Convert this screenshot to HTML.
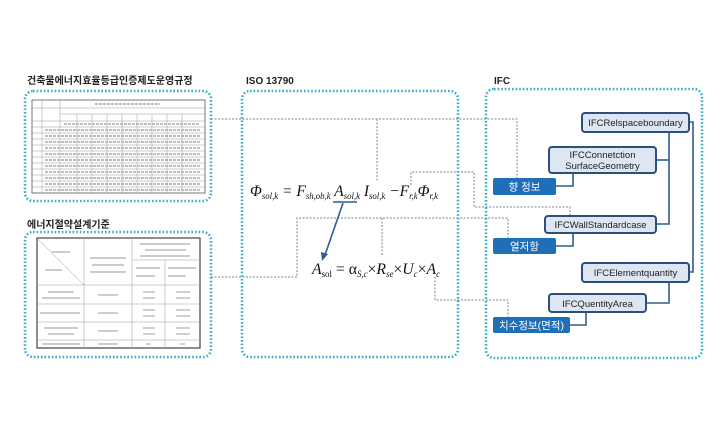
<!DOCTYPE html>
<html><head><meta charset="utf-8"><style>
html,body{margin:0;padding:0;background:#fff;}
svg{display:block}
text{font-family:"Liberation Sans","Noto Sans CJK KR",sans-serif;}
.t{font-weight:bold;font-size:10px;fill:#222}
.f{font-family:"Liberation Serif",serif;font-style:italic;fill:#111}
.btn{fill:#1f6fb8}
.bt{fill:#fff;font-size:10.5px}
.lb{fill:#dde6f2;stroke:#2c4f7c;stroke-width:2}
.lt{fill:#222;font-size:9.5px}
.dot{fill:none;stroke:#35aec8;stroke-width:2.6;stroke-dasharray:1.6 2}
.con{fill:none;stroke:#6f8aa0;stroke-width:1;stroke-dasharray:2 1.5}
.sol{fill:none;stroke:#2c5f8e;stroke-width:1.6}
.g{stroke:#999;stroke-width:0.5}
</style></head><body>
<svg width="720" height="440" viewBox="0 0 720 440">
<text x="27" y="84" class="t">건축물에너지효율등급인증제도운영규정</text>
<text x="27" y="228" class="t">에너지절약설계기준</text>
<text x="246" y="84" class="t">ISO 13790</text>
<text x="494" y="84" class="t">IFC</text>
<rect x="25" y="91" width="186" height="110" rx="8" class="dot"/>
<rect x="25" y="232" width="186" height="125" rx="8" class="dot"/>
<rect x="242" y="91" width="216" height="266" rx="8" class="dot"/>
<rect x="486" y="89" width="216" height="269" rx="8" class="dot"/>
<g>
<rect x="32" y="100" width="173" height="93" fill="#fff" stroke="#555" stroke-width="0.8"/>
<g class="g">
<line x1="32" y1="108" x2="205" y2="108"/><line x1="60" y1="114" x2="205" y2="114"/>
<line x1="32" y1="121" x2="205" y2="121"/><line x1="32" y1="127" x2="205" y2="127"/><line x1="32" y1="133" x2="205" y2="133"/>
<line x1="32" y1="139" x2="205" y2="139"/><line x1="32" y1="145" x2="205" y2="145"/><line x1="32" y1="151" x2="205" y2="151"/>
<line x1="32" y1="157" x2="205" y2="157"/><line x1="32" y1="163" x2="205" y2="163"/><line x1="32" y1="169" x2="205" y2="169"/>
<line x1="32" y1="175" x2="205" y2="175"/><line x1="32" y1="181" x2="205" y2="181"/><line x1="32" y1="187" x2="205" y2="187"/>
<line x1="42" y1="100" x2="42" y2="193"/><line x1="60" y1="100" x2="60" y2="193"/>
<line x1="77" y1="114" x2="77" y2="193"/><line x1="92" y1="114" x2="92" y2="193"/><line x1="107" y1="114" x2="107" y2="193"/>
<line x1="122" y1="114" x2="122" y2="193"/><line x1="137" y1="114" x2="137" y2="193"/><line x1="152" y1="114" x2="152" y2="193"/>
<line x1="167" y1="114" x2="167" y2="193"/><line x1="182" y1="114" x2="182" y2="193"/>
</g>
<g stroke="#aaa" stroke-width="1.4" stroke-dasharray="3 1">
<line x1="95" y1="104" x2="160" y2="104"/>
<line x1="64" y1="124" x2="200" y2="124"/><line x1="45" y1="130" x2="200" y2="130"/><line x1="45" y1="136" x2="200" y2="136"/><line x1="45" y1="142" x2="200" y2="142"/><line x1="45" y1="148" x2="200" y2="148"/><line x1="45" y1="154" x2="200" y2="154"/><line x1="45" y1="160" x2="200" y2="160"/><line x1="45" y1="166" x2="200" y2="166"/><line x1="45" y1="172" x2="200" y2="172"/><line x1="45" y1="178" x2="200" y2="178"/><line x1="45" y1="184" x2="200" y2="184"/><line x1="45" y1="190" x2="200" y2="190"/>
</g>
</g>
<g>
<rect x="37" y="238" width="163" height="110" fill="#fff" stroke="#444" stroke-width="1.2"/>
<g class="g">
<line x1="37" y1="238" x2="84" y2="285"/>
<line x1="84" y1="238" x2="84" y2="348"/><line x1="132" y1="238" x2="132" y2="348"/><line x1="165" y1="260" x2="165" y2="348"/>
<line x1="132" y1="260" x2="200" y2="260"/>
<line x1="37" y1="285" x2="200" y2="285"/><line x1="37" y1="304" x2="200" y2="304"/><line x1="37" y1="322" x2="200" y2="322"/><line x1="37" y1="340" x2="200" y2="340"/>
</g>
<g stroke="#bbb" stroke-width="1.4">
<line x1="52" y1="252" x2="70" y2="252"/><line x1="45" y1="270" x2="62" y2="270"/>
<line x1="90" y1="258" x2="126" y2="258"/><line x1="92" y1="265" x2="124" y2="265"/><line x1="90" y1="272" x2="126" y2="272"/>
<line x1="140" y1="244" x2="190" y2="244"/><line x1="145" y1="250" x2="186" y2="250"/><line x1="140" y1="256" x2="190" y2="256"/>
<line x1="136" y1="268" x2="160" y2="268"/><line x1="168" y1="268" x2="196" y2="268"/><line x1="136" y1="276" x2="155" y2="276"/><line x1="168" y1="276" x2="186" y2="276"/>
<line x1="48" y1="292" x2="74" y2="292"/><line x1="42" y1="298" x2="80" y2="298"/><line x1="98" y1="295" x2="118" y2="295"/><line x1="143" y1="292" x2="155" y2="292"/><line x1="143" y1="298" x2="155" y2="298"/><line x1="176" y1="292" x2="190" y2="292"/><line x1="176" y1="298" x2="190" y2="298"/>
<line x1="40" y1="313" x2="80" y2="313"/><line x1="98" y1="313" x2="118" y2="313"/><line x1="143" y1="310" x2="155" y2="310"/><line x1="143" y1="316" x2="155" y2="316"/><line x1="176" y1="310" x2="190" y2="310"/><line x1="176" y1="316" x2="190" y2="316"/>
<line x1="44" y1="328" x2="78" y2="328"/><line x1="48" y1="334" x2="74" y2="334"/><line x1="98" y1="331" x2="118" y2="331"/><line x1="143" y1="328" x2="155" y2="328"/><line x1="143" y1="334" x2="155" y2="334"/><line x1="176" y1="328" x2="190" y2="328"/><line x1="176" y1="334" x2="190" y2="334"/>
<line x1="42" y1="344" x2="80" y2="344"/><line x1="98" y1="344" x2="118" y2="344"/><line x1="146" y1="344" x2="151" y2="344"/><line x1="180" y1="344" x2="185" y2="344"/>
</g>
</g>
<polyline class="con" points="211,119 517,119 517,178"/>
<line class="con" x1="377" y1="119" x2="377" y2="182"/>
<polyline class="con" points="411,185 411,172 474,172 474,207 570,207 570,216"/>
<polyline class="con" points="211,277 297,277 297,218 508,218 508,238"/>
<line class="con" x1="382" y1="218" x2="382" y2="255"/>
<polyline class="con" points="435,277 435,300 508,300 508,317"/>
<text x="250" y="196" class="f" font-size="16" textLength="188" lengthAdjust="spacingAndGlyphs">Φ<tspan font-size="9" dy="3">sol,k</tspan><tspan dy="-3"> = F</tspan><tspan font-size="9" dy="3">sh,ob,k</tspan><tspan dy="-3"> A</tspan><tspan font-size="9" dy="3">sol,k</tspan><tspan dy="-3"> I</tspan><tspan font-size="9" dy="3">sol,k</tspan><tspan dy="-3"> −F</tspan><tspan font-size="9" dy="3">r,k</tspan><tspan dy="-3">Φ</tspan><tspan font-size="9" dy="3">r,k</tspan></text>
<line x1="333" y1="202" x2="357" y2="202" stroke="#2c5f8e" stroke-width="1.5"/>
<line x1="343" y1="203" x2="325" y2="255" stroke="#2c5f8e" stroke-width="1.6"/>
<polygon points="322,261 321,252 328,254" fill="#2c5f8e"/>
<text x="312" y="274" class="f" font-size="16" textLength="128" lengthAdjust="spacingAndGlyphs">A<tspan font-size="9" dy="3" font-style="normal">sol</tspan><tspan dy="-3" font-style="normal"> = α</tspan><tspan font-size="9" dy="3">S,c</tspan><tspan dy="-3" font-style="normal">×</tspan><tspan>R</tspan><tspan font-size="9" dy="3">se</tspan><tspan dy="-3" font-style="normal">×</tspan><tspan>U</tspan><tspan font-size="9" dy="3">c</tspan><tspan dy="-3" font-style="normal">×</tspan><tspan>A</tspan><tspan font-size="9" dy="3">c</tspan></text>
<polyline class="sol" points="556,186 573,186 573,173"/>
<polyline class="sol" points="656,160 669,160"/>
<polyline class="sol" points="669,132 669,224 656,224"/>
<polyline class="sol" points="556,246 573,246 573,233"/>
<polyline class="sol" points="689,122 693,122 693,272 689,272"/>
<polyline class="sol" points="669,282 669,303 646,303"/>
<polyline class="sol" points="570,325 586,325 586,312"/>
<rect x="582" y="113" width="107" height="19" rx="3" class="lb"/>
<text x="635.5" y="126" class="lt" text-anchor="middle">IFCRelspaceboundary</text>
<rect x="549" y="147" width="107" height="26" rx="3" class="lb"/>
<text x="602.5" y="158" class="lt" text-anchor="middle">IFCConnetction</text>
<text x="602.5" y="169" class="lt" text-anchor="middle">SurfaceGeometry</text>
<rect x="545" y="216" width="111" height="17" rx="3" class="lb"/>
<text x="600.5" y="228" class="lt" text-anchor="middle">IFCWallStandardcase</text>
<rect x="582" y="263" width="107" height="19" rx="3" class="lb"/>
<text x="635.5" y="276" class="lt" text-anchor="middle">IFCElementquantity</text>
<rect x="549" y="294" width="97" height="18" rx="3" class="lb"/>
<text x="597.5" y="307" class="lt" text-anchor="middle">IFCQuentityArea</text>
<rect x="493" y="178" width="63" height="17" rx="2" class="btn"/>
<text x="524.5" y="190.5" class="bt" text-anchor="middle">향 정보</text>
<rect x="493" y="238" width="63" height="16" rx="2" class="btn"/>
<text x="524.5" y="250" class="bt" text-anchor="middle">열저항</text>
<rect x="493" y="317" width="77" height="16" rx="2" class="btn"/>
<text x="531.5" y="329" class="bt" text-anchor="middle">치수정보(면적)</text>
</svg>
</body></html>
